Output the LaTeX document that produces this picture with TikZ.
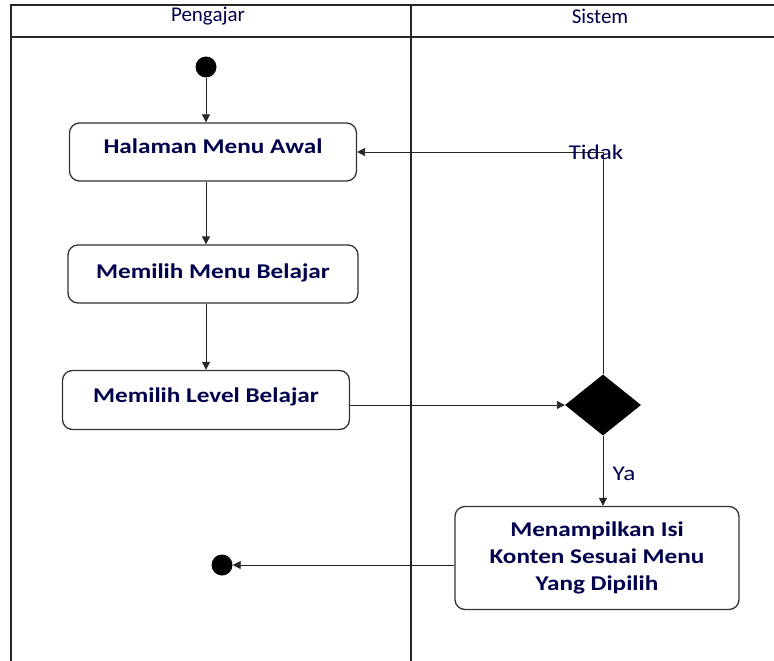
\documentclass[tikz,border=0pt]{standalone}
\usepackage{fontspec}
\setmainfont{Carlito}
\newfontfamily\widefont[FakeStretch=1.2]{Carlito}
\usetikzlibrary{shapes.geometric,arrows.meta}
\tikzset{
  lane/.style={line width=1.3pt, draw=black!85},
  act/.style={draw=black!80, line width=1.3pt, rounded corners=10pt, fill=white,
    font=\widefont\fontsize{21}{27}\selectfont\bfseries, text=black!70!blue, align=center},
  one/.style={text height=14pt, text depth=#1},
  dot/.style={circle, fill=black, inner sep=0pt, minimum width=21pt, minimum height=19pt},
  flow/.style={-{Triangle[length=8pt,width=8pt]}, line width=0.9pt, black!85},
  lbl/.style={font=\fontsize{21}{24}\selectfont, text=black!70!blue, inner sep=0pt},
  cond/.style={font=\widefont\fontsize{21}{24}\selectfont, text=black!70!blue, inner sep=0pt}
}
\begin{document}
\begin{tikzpicture}[x=1pt,y=-1pt]
  \useasboundingbox (0,0) rectangle (774,661);
  % swimlanes
  \draw[lane] (11,661) -- (11,5) -- (774,5);
  \draw[lane] (11,37) -- (774,37);
  \draw[lane] (411,5) -- (411,661);
  \draw
    (208,16) node[lbl] (pengajar){Pengajar}
    (600,16) node[lbl] (sistem){Sistem};
  % activities
  \draw
    (206,67) node[dot] (start){}
    (213,152) node[act, one=12pt, minimum width=287pt, minimum height=58pt] (awal){Halaman Menu Awal}
    (213,274) node[act, one=5pt, minimum width=290pt, minimum height=58pt] (menu){Memilih Menu Belajar}
    (206,400) node[act, one=10pt, minimum width=287pt, minimum height=59pt] (level){Memilih Level Belajar}
    (603,405) node[diamond, fill=black, inner sep=0pt, minimum width=76pt, minimum height=61pt] (cek){}
    (597,558) node[act, minimum width=284pt, minimum height=103pt] (isi){Menampilkan Isi\\Konten Sesuai Menu\\Yang Dipilih}
    (222,565) node[dot] (stop){};
  \begin{scope}[flow]
    \draw (start) -- (start |- awal.north);
    \draw (start |- awal.south) -- (start |- menu.north);
    \draw (start |- menu.south) -- (start |- level.north);
    \draw (level.east |- cek) -- (cek);
    \draw (cek) |- (awal.east) node[cond, pos=0.5, xshift=-7pt] (tidak){Tidak};
    \draw (cek) -- (cek |- isi.north) node[cond, pos=0.55, xshift=21pt] (ya){Ya};
    \draw (isi.west |- stop) -- (stop);
  \end{scope}
\end{tikzpicture}
\end{document}
